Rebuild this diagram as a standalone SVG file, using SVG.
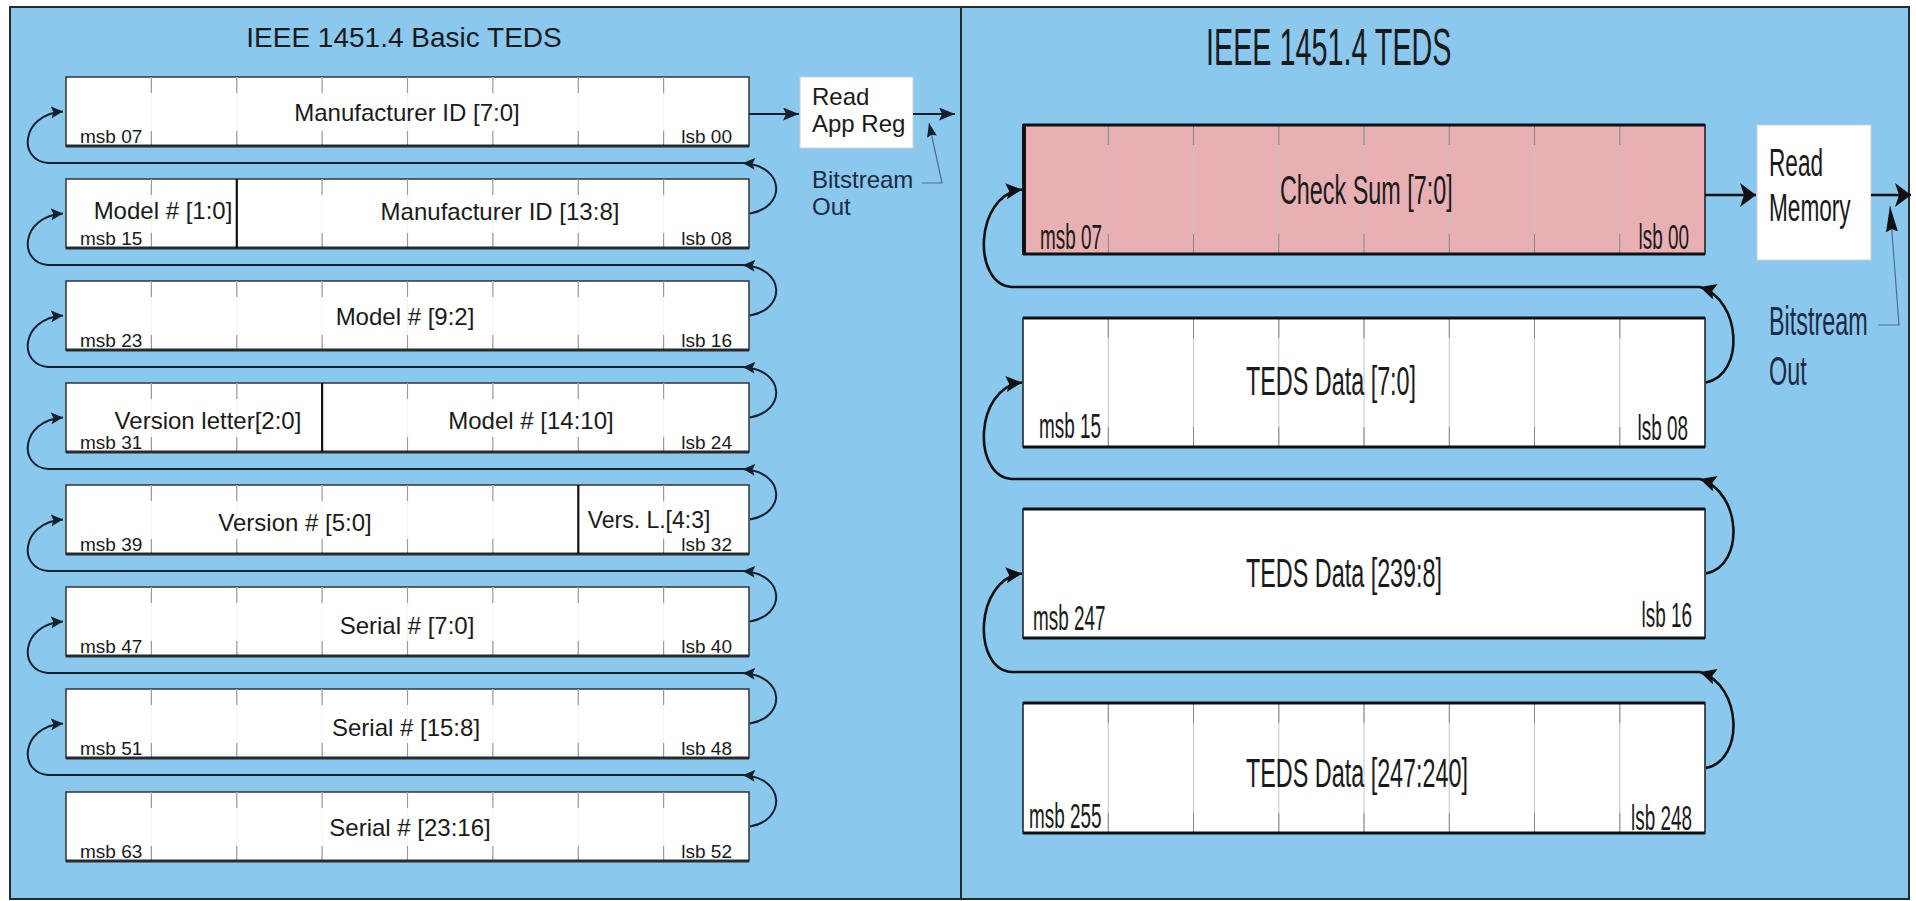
<svg xmlns="http://www.w3.org/2000/svg" width="1916" height="901" viewBox="0 0 1916 901">
<style>
.panel{fill:#8AC8EE;stroke:#2a2a2a;stroke-width:2}
.lbox{fill:#fff;stroke:#333;stroke-width:1.5}
.lbord{stroke:#2a2a2a;stroke-width:3;fill:none}
.ltick{stroke:#9a9a9a;stroke-width:1.2;fill:none}
.lfaint{stroke:#f3f3f3;stroke-width:1;fill:none}
.div{stroke:#111;stroke-width:2.2}
.rbox{fill:#fff;stroke:#1a1a1a;stroke-width:1.5}
.cs{fill:#E8B0B3}
.rbord{stroke:#111;stroke-width:3.2;fill:none}
.rtick{stroke:#c4c4c4;stroke-width:1;fill:none}
.rtickd{stroke:#858585;stroke-width:1;fill:none}
.reg{fill:#fff;stroke:#d0d0d0;stroke-width:1}
.lt{font-family:"Liberation Sans",Arial,sans-serif;fill:#1a1a1a}
.nv{fill:#1c2a44}
.conn{stroke:#14202e;stroke-width:2;fill:none}
.connR{stroke:#111;stroke-width:2.6;fill:none}
.lead{stroke:#4f6f88;stroke-width:1.2;fill:none}
</style>
<defs>
<marker id="aS" markerUnits="userSpaceOnUse" markerWidth="13" markerHeight="12" refX="12" refY="6" orient="auto"><path d="M0,0 L12,6 L0,12 L2.5,6 z" fill="#14202e"/></marker>
<marker id="aL" markerUnits="userSpaceOnUse" markerWidth="17" markerHeight="13" refX="16" refY="6.5" orient="auto"><path d="M0,0 L16,6.5 L0,13 L3,6.5 z" fill="#14202e"/></marker>
<marker id="aR" markerUnits="userSpaceOnUse" markerWidth="17" markerHeight="24" refX="16" refY="12" orient="auto"><path d="M0,0 L16,12 L0,24 L4,12 z" fill="#111"/></marker>
<marker id="aRc" markerUnits="userSpaceOnUse" markerWidth="17" markerHeight="17" refX="16" refY="8" orient="auto"><path d="M0,0 L16,8 L0,16 L3,8 z" fill="#111"/></marker>
<marker id="aT1" markerUnits="userSpaceOnUse" markerWidth="15" markerHeight="11" refX="14" refY="5" orient="auto"><path d="M0,0 L14,5 L0,10 L2,5 z" fill="#14202e"/></marker>
<marker id="aT2" markerUnits="userSpaceOnUse" markerWidth="27" markerHeight="13" refX="26" refY="6" orient="auto"><path d="M0,0 L26,6 L0,12 L3,6 z" fill="#111"/></marker>
</defs>
<rect x="0" y="0" width="1916" height="901" fill="#fff"/>
<g id="panel-left"><rect class="panel" x="10" y="7" width="951" height="892"/>
<text class="lt" x="404" y="47" font-size="28" text-anchor="middle">IEEE 1451.4 Basic TEDS</text></g>
<g id="panel-right"><rect class="panel" x="961" y="7" width="948" height="892"/>
<text class="lt" transform="translate(1206,65) scale(0.553,1)" font-size="52">IEEE 1451.4 TEDS</text></g>

<g id="lb1"><rect class="lbox" x="66" y="77" width="683" height="69"/>
<path class="lfaint" d="M151.4 77V146M236.8 77V146M322.1 77V146M407.5 77V146M492.9 77V146M578.3 77V146M663.6 77V146"/>
<path class="ltick" d="M151.4 77v16M151.4 131v15M236.8 77v16M236.8 131v15M322.1 77v16M322.1 131v15M407.5 77v16M407.5 131v15M492.9 77v16M492.9 131v15M578.3 77v16M578.3 131v15M663.6 77v16M663.6 131v15"/>
<path class="lbord" d="M66 146H749"/>
<text class="lt" x="407" y="121" font-size="24" text-anchor="middle">Manufacturer ID [7:0]</text>
<text class="lt" x="80" y="143" font-size="19">msb 07</text><text class="lt" x="732" y="143" font-size="19" text-anchor="end">lsb 00</text></g>

<g id="lb2"><rect class="lbox" x="66" y="179" width="683" height="69"/>
<path class="lfaint" d="M151.4 179V248M322.1 179V248M407.5 179V248M492.9 179V248M578.3 179V248M663.6 179V248"/>
<path class="ltick" d="M151.4 179v16M151.4 233v15M322.1 179v16M322.1 233v15M407.5 179v16M407.5 233v15M492.9 179v16M492.9 233v15M578.3 179v16M578.3 233v15M663.6 179v16M663.6 233v15"/>
<path class="lbord" d="M66 248H749"/><path class="div" d="M236.8 179V248"/>
<text class="lt" x="163" y="219" font-size="24" text-anchor="middle">Model # [1:0]</text>
<text class="lt" x="500" y="220" font-size="24" text-anchor="middle">Manufacturer ID [13:8]</text>
<text class="lt" x="80" y="245" font-size="19">msb 15</text><text class="lt" x="732" y="245" font-size="19" text-anchor="end">lsb 08</text></g>

<g id="lb3"><rect class="lbox" x="66" y="281" width="683" height="69"/>
<path class="lfaint" d="M151.4 281V350M236.8 281V350M322.1 281V350M407.5 281V350M492.9 281V350M578.3 281V350M663.6 281V350"/>
<path class="ltick" d="M151.4 281v16M151.4 335v15M236.8 281v16M236.8 335v15M322.1 281v16M322.1 335v15M407.5 281v16M407.5 335v15M492.9 281v16M492.9 335v15M578.3 281v16M578.3 335v15M663.6 281v16M663.6 335v15"/>
<path class="lbord" d="M66 350H749"/>
<text class="lt" x="405" y="325" font-size="24" text-anchor="middle">Model # [9:2]</text>
<text class="lt" x="80" y="347" font-size="19">msb 23</text><text class="lt" x="732" y="347" font-size="19" text-anchor="end">lsb 16</text></g>

<g id="lb4"><rect class="lbox" x="66" y="383" width="683" height="69"/>
<path class="lfaint" d="M151.4 383V452M236.8 383V452M407.5 383V452M492.9 383V452M578.3 383V452M663.6 383V452"/>
<path class="ltick" d="M151.4 383v16M151.4 437v15M236.8 383v16M236.8 437v15M407.5 383v16M407.5 437v15M492.9 383v16M492.9 437v15M578.3 383v16M578.3 437v15M663.6 383v16M663.6 437v15"/>
<path class="lbord" d="M66 452H749"/><path class="div" d="M322.1 383V452"/>
<text class="lt" x="208" y="429" font-size="24" text-anchor="middle">Version letter[2:0]</text>
<text class="lt" x="531" y="429" font-size="24" text-anchor="middle">Model # [14:10]</text>
<text class="lt" x="80" y="449" font-size="19">msb 31</text><text class="lt" x="732" y="449" font-size="19" text-anchor="end">lsb 24</text></g>

<g id="lb5"><rect class="lbox" x="66" y="485" width="683" height="69"/>
<path class="lfaint" d="M151.4 485V554M236.8 485V554M322.1 485V554M407.5 485V554M492.9 485V554M663.6 485V554"/>
<path class="ltick" d="M151.4 485v16M151.4 539v15M236.8 485v16M236.8 539v15M322.1 485v16M322.1 539v15M407.5 485v16M407.5 539v15M492.9 485v16M492.9 539v15M663.6 485v16M663.6 539v15"/>
<path class="lbord" d="M66 554H749"/><path class="div" d="M578.3 485V554"/>
<text class="lt" x="295" y="531" font-size="24" text-anchor="middle">Version # [5:0]</text>
<text class="lt" x="649" y="528" font-size="23" text-anchor="middle">Vers. L.[4:3]</text>
<text class="lt" x="80" y="551" font-size="19">msb 39</text><text class="lt" x="732" y="551" font-size="19" text-anchor="end">lsb 32</text></g>

<g id="lb6"><rect class="lbox" x="66" y="587" width="683" height="69"/>
<path class="lfaint" d="M151.4 587V656M236.8 587V656M322.1 587V656M407.5 587V656M492.9 587V656M578.3 587V656M663.6 587V656"/>
<path class="ltick" d="M151.4 587v16M151.4 641v15M236.8 587v16M236.8 641v15M322.1 587v16M322.1 641v15M407.5 587v16M407.5 641v15M492.9 587v16M492.9 641v15M578.3 587v16M578.3 641v15M663.6 587v16M663.6 641v15"/>
<path class="lbord" d="M66 656H749"/>
<text class="lt" x="407" y="634" font-size="24" text-anchor="middle">Serial # [7:0]</text>
<text class="lt" x="80" y="653" font-size="19">msb 47</text><text class="lt" x="732" y="653" font-size="19" text-anchor="end">lsb 40</text></g>

<g id="lb7"><rect class="lbox" x="66" y="689" width="683" height="69"/>
<path class="lfaint" d="M151.4 689V758M236.8 689V758M322.1 689V758M407.5 689V758M492.9 689V758M578.3 689V758M663.6 689V758"/>
<path class="ltick" d="M151.4 689v16M151.4 743v15M236.8 689v16M236.8 743v15M322.1 689v16M322.1 743v15M407.5 689v16M407.5 743v15M492.9 689v16M492.9 743v15M578.3 689v16M578.3 743v15M663.6 689v16M663.6 743v15"/>
<path class="lbord" d="M66 758H749"/>
<text class="lt" x="406" y="736" font-size="24" text-anchor="middle">Serial # [15:8]</text>
<text class="lt" x="80" y="755" font-size="19">msb 51</text><text class="lt" x="732" y="755" font-size="19" text-anchor="end">lsb 48</text></g>

<g id="lb8"><rect class="lbox" x="66" y="792" width="683" height="69"/>
<path class="lfaint" d="M151.4 792V861M236.8 792V861M322.1 792V861M407.5 792V861M492.9 792V861M578.3 792V861M663.6 792V861"/>
<path class="ltick" d="M151.4 792v16M151.4 846v15M236.8 792v16M236.8 846v15M322.1 792v16M322.1 846v15M407.5 792v16M407.5 846v15M492.9 792v16M492.9 846v15M578.3 792v16M578.3 846v15M663.6 792v16M663.6 846v15"/>
<path class="lbord" d="M66 861H749"/>
<text class="lt" x="410" y="836" font-size="24" text-anchor="middle">Serial # [23:16]</text>
<text class="lt" x="80" y="858" font-size="19">msb 63</text><text class="lt" x="732" y="858" font-size="19" text-anchor="end">lsb 52</text></g>

<g id="read-app-reg"><rect class="reg" x="800" y="77" width="113" height="71"/>
<text class="lt" x="812" y="105" font-size="24">Read</text><text class="lt" x="812" y="132" font-size="24">App Reg</text></g>
<g id="bitstream-left"><text class="lt nv" x="812" y="188" font-size="24">Bitstream</text><text class="lt nv" x="812" y="215" font-size="24">Out</text></g>

<g id="rb1"><rect class="rbox cs" x="1023" y="125" width="682" height="129"/>
<path class="rtick" d="M1108.3 125V254M1193.5 125V254M1278.8 125V254M1364 125V254M1449.3 125V254M1534.5 125V254M1619.8 125V254"/>
<path class="rtickd" d="M1108.3 125v20M1108.3 234v20M1193.5 125v20M1193.5 234v20M1278.8 125v20M1278.8 234v20M1364 125v20M1364 234v20M1449.3 125v20M1449.3 234v20M1534.5 125v20M1534.5 234v20M1619.8 125v20M1619.8 234v20"/>
<path class="rbord" d="M1023 125H1705M1023 254H1705"/><path d="M1024 124V255" stroke="#111" stroke-width="4"/>
<text class="lt" transform="translate(1280,204) scale(0.57,1)" font-size="41">Check Sum [7:0]</text>
<text class="lt" transform="translate(1040,249) scale(0.54,1)" font-size="35">msb 07</text>
<text class="lt" transform="translate(1689,249) scale(0.54,1)" font-size="35" text-anchor="end">lsb 00</text></g>

<g id="rb2"><rect class="rbox" x="1023" y="318" width="682" height="129"/>
<path class="rtick" d="M1108.3 318V447M1193.5 318V447M1278.8 318V447M1364 318V447M1449.3 318V447M1534.5 318V447M1619.8 318V447"/>
<path class="rtickd" d="M1108.3 318v20M1108.3 427v20M1193.5 318v20M1193.5 427v20M1278.8 318v20M1278.8 427v20M1364 318v20M1364 427v20M1449.3 318v20M1449.3 427v20M1534.5 318v20M1534.5 427v20M1619.8 318v20M1619.8 427v20"/>
<path class="rbord" d="M1023 318H1705M1023 447H1705"/>
<text class="lt" transform="translate(1246,395) scale(0.57,1)" font-size="41">TEDS Data [7:0]</text>
<text class="lt" transform="translate(1039,438) scale(0.54,1)" font-size="35">msb 15</text>
<text class="lt" transform="translate(1688,440) scale(0.54,1)" font-size="35" text-anchor="end">lsb 08</text></g>

<g id="rb3"><rect class="rbox" x="1023" y="509" width="682" height="129"/>
<path class="rbord" d="M1023 509H1705M1023 638H1705"/>
<text class="lt" transform="translate(1246,587) scale(0.57,1)" font-size="41">TEDS Data [239:8]</text>
<text class="lt" transform="translate(1033,630) scale(0.54,1)" font-size="35">msb 247</text>
<text class="lt" transform="translate(1692,627) scale(0.54,1)" font-size="35" text-anchor="end">lsb 16</text></g>

<g id="rb4"><rect class="rbox" x="1023" y="703" width="682" height="130"/>
<path class="rtick" d="M1108.3 703V833M1193.5 703V833M1278.8 703V833M1364 703V833M1449.3 703V833M1534.5 703V833M1619.8 703V833"/>
<path class="rtickd" d="M1108.3 703v20M1108.3 813v20M1193.5 703v20M1193.5 813v20M1278.8 703v20M1278.8 813v20M1364 703v20M1364 813v20M1449.3 703v20M1449.3 813v20M1534.5 703v20M1534.5 813v20M1619.8 703v20M1619.8 813v20"/>
<path class="rbord" d="M1023 703H1705M1023 833H1705"/>
<text class="lt" transform="translate(1246,787) scale(0.57,1)" font-size="41">TEDS Data [247:240]</text>
<text class="lt" transform="translate(1029,828) scale(0.54,1)" font-size="35">msb 255</text>
<text class="lt" transform="translate(1692,830) scale(0.54,1)" font-size="35" text-anchor="end">lsb 248</text></g>

<g id="read-memory"><rect class="reg" x="1757" y="125" width="114" height="135"/>
<text class="lt" transform="translate(1769,176) scale(0.58,1)" font-size="39">Read</text>
<text class="lt" transform="translate(1769,221) scale(0.58,1)" font-size="39">Memory</text></g>
<g id="bitstream-right"><text class="lt nv" transform="translate(1769,335) scale(0.57,1)" font-size="41">Bitstream</text>
<text class="lt nv" transform="translate(1769,385) scale(0.57,1)" font-size="41">Out</text></g>

<g id="connectors">
<path class="conn" d="M749 114H799" marker-end="url(#aL)"/>
<path class="conn" d="M913 114H955" marker-end="url(#aL)"/>
<path class="lead" d="M922 183H942L929 123" marker-end="url(#aT1)"/>
<path class="conn" d="M750 213.5C786 207.5 786 166 743 163" marker-end="url(#aS)"/>
<path class="conn" d="M743 163H48C18 161 20 114.5 63 111.5" marker-end="url(#aS)"/>
<path class="conn" d="M750 315.5C786 309.5 786 268 743 265" marker-end="url(#aS)"/>
<path class="conn" d="M743 265H48C18 263 20 216.5 63 213.5" marker-end="url(#aS)"/>
<path class="conn" d="M750 417.5C786 411.5 786 370 743 367" marker-end="url(#aS)"/>
<path class="conn" d="M743 367H48C18 365 20 318.5 63 315.5" marker-end="url(#aS)"/>
<path class="conn" d="M750 519.5C786 513.5 786 472 743 469" marker-end="url(#aS)"/>
<path class="conn" d="M743 469H48C18 467 20 420.5 63 417.5" marker-end="url(#aS)"/>
<path class="conn" d="M750 621.5C786 615.5 786 574 743 571" marker-end="url(#aS)"/>
<path class="conn" d="M743 571H48C18 569 20 522.5 63 519.5" marker-end="url(#aS)"/>
<path class="conn" d="M750 723.5C786 717.5 786 676 743 673" marker-end="url(#aS)"/>
<path class="conn" d="M743 673H48C18 671 20 624.5 63 621.5" marker-end="url(#aS)"/>
<path class="conn" d="M750 826.5C786 820.5 786 778 743 775" marker-end="url(#aS)"/>
<path class="conn" d="M743 775H48C18 773 20 726.5 63 723.5" marker-end="url(#aS)"/>
<path class="connR" d="M1705 195H1756" marker-end="url(#aR)"/>
<path class="connR" d="M1871 195H1911" marker-end="url(#aR)"/>
<path class="lead" d="M1878 325H1899L1890 206" marker-end="url(#aT2)"/>
<path class="connR" d="M1706 382.5C1745 375 1742 300 1700 287" marker-end="url(#aRc)"/>
<path class="connR" d="M1700 287H1012C972 285 974 195 1022 189.5" marker-end="url(#aRc)"/>
<path class="connR" d="M1706 573.5C1745 566 1742 492 1700 479" marker-end="url(#aRc)"/>
<path class="connR" d="M1700 479H1012C972 477 974 387 1022 382.5" marker-end="url(#aRc)"/>
<path class="connR" d="M1706 768C1745 760 1742 685 1700 672" marker-end="url(#aRc)"/>
<path class="connR" d="M1700 672H1012C972 670 974 579 1022 573.5" marker-end="url(#aRc)"/>
</g>
</svg>
